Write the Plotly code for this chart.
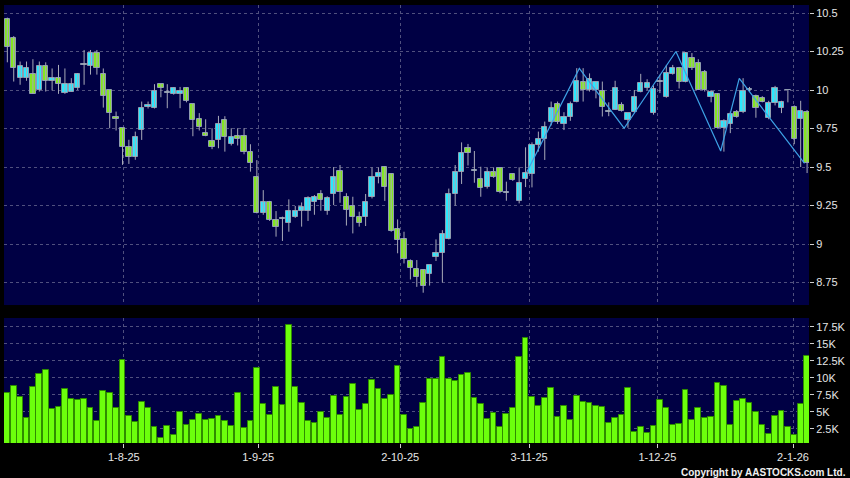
import plotly.graph_objects as go

# ---------------- data ----------------
opens = [10.46, 10.34, 10.077, 10.077, 10.103, 9.999, 10.159, 10.06, 10.075, 9.98,
         9.99, 10.016, 10.161, 10.159, 10.239, 10.103, 9.999, 9.825, 9.752, 9.631,
         9.568, 9.741, 9.888, 9.882, 10.036, 9.98, 9.975, 9.975, 10.012, 9.908,
         9.81, 9.72, 9.672, 9.676, 9.804, 9.648, 9.703, 9.703, 9.60, 9.433,
         9.199, 9.27, 9.154, 9.16, 9.134, 9.173, 9.212, 9.212, 9.27, 9.322,
         9.216, 9.325, 9.476, 9.303, 9.249, 9.173, 9.177, 9.307, 9.437, 9.497,
         9.455, 9.095, 9.03, 8.892, 8.835, 8.831, 8.803, 8.914, 8.94, 9.032,
         9.322, 9.47, 9.621, 9.476, 9.42, 9.368, 9.47, 9.491, 9.333, 9.452,
         9.281, 9.42, 9.452, 9.644, 9.681, 9.791, 9.908, 9.78, 9.823, 9.925,
         10.055, 10.0, 10.0, 9.996, 9.859, 9.87, 9.901, 9.805, 9.859, 9.988,
         10.016, 9.848, 10.05, 9.953, 10.104, 10.14, 10.054, 10.205, 10.177, 10.119,
         9.953, 9.975, 9.752, 9.78, 9.86, 9.86, 10.0, 9.962, 9.951, 9.82,
         9.918, 9.882, 9.997, 9.888, 9.813, 9.86]
highs = [10.47, 10.35, 10.185, 10.185, 10.2, 10.185, 10.18, 10.14, 10.163, 10.14,
         10.077, 10.11, 10.26, 10.26, 10.26, 10.14, 10.0, 9.86, 9.752, 9.677,
         9.73, 9.925, 9.925, 10.038, 10.04, 10.038, 10.017, 10.02, 10.018, 9.91,
         9.85, 9.81, 9.752, 9.832, 9.83, 9.752, 9.752, 9.752, 9.648, 9.545,
         9.35, 9.28, 9.214, 9.178, 9.29, 9.247, 9.27, 9.31, 9.318, 9.35,
         9.31, 9.5, 9.513, 9.33, 9.307, 9.21, 9.325, 9.497, 9.497, 9.506,
         9.46, 9.16, 9.08, 8.9, 8.896, 8.835, 8.861, 9.03, 9.09, 9.36,
         9.513, 9.66, 9.65, 9.604, 9.502, 9.498, 9.498, 9.498, 9.405, 9.46,
         9.498, 9.628, 9.66, 9.73, 9.795, 9.925, 9.925, 9.856, 9.925, 10.142,
         10.142, 10.108, 10.054, 10.055, 9.92, 10.06, 9.92, 9.85, 10.0, 10.105,
         10.07, 10.03, 10.1, 10.163, 10.163, 10.15, 10.245, 10.24, 10.2, 10.13,
         10.0, 9.98, 9.81, 9.86, 9.87, 10.077, 10.02, 9.97, 9.96, 9.93,
         10.027, 9.93, 10.0, 9.9, 9.93, 9.87]
lows = [10.18, 10.055, 10.034, 10.06, 9.975, 9.99, 9.99, 9.997, 9.975, 9.975,
        9.99, 10.0, 10.034, 10.10, 10.10, 9.886, 9.752, 9.737, 9.514, 9.52,
        9.547, 9.676, 9.88, 9.88, 9.953, 9.882, 9.97, 9.882, 9.92, 9.70,
        9.737, 9.70, 9.616, 9.622, 9.60, 9.64, 9.64, 9.583, 9.47, 9.199,
        9.19, 9.15, 9.048, 9.02, 9.08, 9.17, 9.113, 9.15, 9.19, 9.216,
        9.19, 9.253, 9.268, 9.12, 9.069, 9.113, 9.117, 9.296, 9.394, 9.28,
        9.08, 8.94, 8.874, 8.77, 8.722, 8.684, 8.73, 8.89, 8.75, 9.03,
        9.25, 9.39, 9.51, 9.398, 9.307, 9.36, 9.43, 9.33, 9.281, 9.41,
        9.264, 9.37, 9.368, 9.6, 9.546, 9.77, 9.78, 9.74, 9.8, 9.92,
        9.925, 9.99, 9.946, 9.828, 9.83, 9.87, 9.86, 9.755, 9.85, 9.985,
        10.0, 9.84, 9.98, 9.95, 10.1, 10.01, 10.05, 10.13, 10.0, 9.99,
        9.92, 9.75, 9.6, 9.72, 9.82, 9.85, 9.99, 9.82, 9.92, 9.81,
        9.9, 9.85, 9.92, 9.648, 9.5, 9.461]
closes = [10.28, 10.14, 10.159, 10.142, 9.977, 10.159, 10.06, 10.077, 10.038, 10.038,
          10.038, 10.103, 10.161, 10.239, 10.142, 9.96, 9.85, 9.812, 9.631, 9.566,
          9.698, 9.886, 9.9, 9.994, 10.016, 9.98, 10.01, 9.993, 9.927, 9.806,
          9.758, 9.70, 9.629, 9.778, 9.692, 9.696, 9.681, 9.60, 9.528, 9.199,
          9.27, 9.156, 9.113, 9.16, 9.212, 9.212, 9.242, 9.30, 9.307, 9.283,
          9.30, 9.437, 9.34, 9.219, 9.173, 9.134, 9.27, 9.433, 9.459, 9.368,
          9.084, 9.026, 8.9, 8.842, 8.788, 8.73, 8.861, 8.94, 9.063, 9.322,
          9.47, 9.589, 9.589, 9.476, 9.361, 9.47, 9.437, 9.34, 9.333, 9.416,
          9.398, 9.459, 9.643, 9.681, 9.763, 9.882, 9.791, 9.823, 9.908, 10.059,
          10.0, 10.07, 10.05, 9.888, 9.859, 10.016, 9.866, 9.848, 9.957, 10.046,
          10.046, 10.009, 10.05, 10.108, 10.145, 10.054, 10.238, 10.14, 10.0, 10.0,
          9.99, 9.752, 9.802, 9.845, 9.823, 9.996, 10.0, 9.882, 9.925, 9.918,
          10.011, 9.92, 9.997, 9.683, 9.865, 9.525]
volumes = [7790, 8770, 7150, 4120, 8670, 10580, 11120, 5440, 5780, 8430,
           6960, 6760, 6860, 5540, 3630, 8040, 7790, 5590, 12690, 4460,
           3530, 6520, 5590, 2790, 1230, 2940, 1570, 4950, 3040, 3820,
           4750, 3870, 3970, 4410, 3630, 2890, 7790, 2700, 3720, 11470,
           6170, 4560, 8620, 5980, 17840, 8620, 6370, 3720, 3430, 5050,
           4120, 7350, 4610, 7150, 9110, 5240, 6130, 9650, 8380, 6910,
           7550, 11810, 4560, 2500, 2740, 6270, 9800, 9800, 13080, 9800,
           9510, 10440, 10680, 7010, 6170, 3970, 4900, 2790, 4750, 5640,
           13080, 15880, 7150, 5830, 7100, 8530, 4310, 5830, 3770, 7400,
           6520, 6320, 5930, 5730, 3330, 4170, 4560, 8480, 2060, 2790,
           1860, 2890, 6810, 5540, 3090, 3230, 8230, 3870, 5640, 4070,
           4310, 9310, 8770, 3140, 6570, 6910, 6370, 4950, 3140, 1720,
           4460, 5100, 2790, 1570, 6130, 13280]

# zigzag overlay (position in bar units, price)
zz_x = [81.2, 89.4, 96.4, 104.5, 111.5, 114.4, 124.6]
zz_y = [9.468, 10.14, 9.752, 10.25, 9.604, 10.076, 9.524]

date_pos = [18.2, 39.2, 61.4, 81.55, 101.6, 122.8]
date_labels = ["1-8-25", "1-9-25", "2-10-25", "3-11-25", "1-12-25", "2-1-26"]

price_ticks = [8.75, 9, 9.25, 9.5, 9.75, 10, 10.25, 10.5]
price_labels = ["8.75", "9", "9.25", "9.5", "9.75", "10", "10.25", "10.5"]
vol_ticks = [2500, 5000, 7500, 10000, 12500, 15000, 17500]
vol_labels = ["2.5K", "5K", "7.5K", "10K", "12.5K", "15K", "17.5K"]

# ---------------- styling ----------------
UP = "#2ae8ff"
DOWN = "#84e621"
DOJI = "#b4b4bc"
OUTLINE = "#8f9cb0"
WICK = "#a8aab8"
VOL = "#6cff0c"
VOL_EDGE = "#2f8c00"
BG = "#000044"
GRID = "#50507e"
DASH = "3px,3px"

idx = list(range(len(opens)))

wx, wy = [], []
for i, h, l in zip(idx, highs, lows):
    wx += [i, i, None]
    wy += [l, h, None]

base, height, colors = [], [], []
for o, c in zip(opens, closes):
    base.append(min(o, c))
    height.append(max(abs(c - o), 0.006))
    if abs(c - o) < 1e-9:
        colors.append(DOJI)
    elif c > o:
        colors.append(UP)
    else:
        colors.append(DOWN)

fig = go.Figure()

fig.add_trace(go.Scatter(x=wx, y=wy, mode="lines", line=dict(color=WICK, width=1),
                         hoverinfo="skip", xaxis="x", yaxis="y"))
fig.add_trace(go.Bar(x=idx, y=height, base=base, width=0.82,
                     marker=dict(color=colors, line=dict(color=OUTLINE, width=1)),
                     xaxis="x", yaxis="y"))
fig.add_trace(go.Scatter(x=zz_x, y=zz_y, mode="lines", line=dict(color="#3da2e6", width=1.2),
                         xaxis="x", yaxis="y"))
fig.add_trace(go.Bar(x=idx, y=volumes, width=0.9,
                     marker=dict(color=VOL, line=dict(color=VOL_EDGE, width=1)),
                     xaxis="x2", yaxis="y2"))

xr = [-0.52, 125.3]
common_x = dict(range=xr, showline=False, zeroline=False, showgrid=True,
                gridcolor=GRID, griddash=DASH, gridwidth=1,
                tickmode="array", tickvals=date_pos)

fig.update_layout(
    width=850, height=478,
    paper_bgcolor="black", plot_bgcolor=BG,
    margin=dict(l=4, r=41, t=5, b=35),
    showlegend=False, bargap=0,
    font=dict(family="Liberation Sans, Arial, sans-serif", size=11, color="#e6e6e6"),
    xaxis=dict(domain=[0, 1], anchor="y", showticklabels=False, ticks="", **common_x),
    xaxis2=dict(domain=[0, 1], anchor="y2", ticktext=date_labels, ticks="outside",
                ticklen=4, tickcolor="#cfcfcf", tickfont=dict(size=11, color="#e6e6e6"),
                **common_x),
    yaxis=dict(domain=[0.315, 1], range=[8.604, 10.552], side="right", anchor="x",
               tickmode="array", tickvals=price_ticks, ticktext=price_labels,
               ticks="outside", ticklen=4, tickcolor="#cfcfcf",
               showgrid=True, gridcolor=GRID, griddash=DASH, gridwidth=1,
               zeroline=False, showline=False),
    yaxis2=dict(domain=[0, 0.2854], range=[440, 18800], side="right", anchor="x2",
                tickmode="array", tickvals=vol_ticks, ticktext=vol_labels,
                ticks="outside", ticklen=4, tickcolor="#cfcfcf",
                showgrid=True, gridcolor=GRID, griddash=DASH, gridwidth=1,
                zeroline=False, showline=False),
    annotations=[dict(text="<b>Copyright by AASTOCKS.com Ltd.</b>", xref="paper", yref="paper",
                      x=1.0 + 39 / 805, y=-29 / 438, xanchor="right", yanchor="middle",
                      showarrow=False, font=dict(size=10, color="#f0f0f0",
                                                 family="Liberation Sans, Arial, sans-serif"))],
)

fig.write_html("out.html", config={"displayModeBar": False},
               post_script="document.body.style.margin='0';document.body.style.background='black';")
